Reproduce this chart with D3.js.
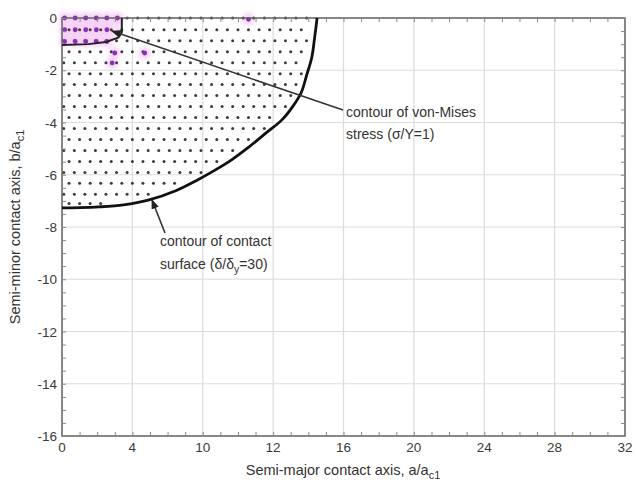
<!DOCTYPE html>
<html><head><meta charset="utf-8">
<script src="https://cdn.jsdelivr.net/npm/d3@7"></script>
<style>body{margin:0;background:#fff}svg{display:block}text{font-family:"Liberation Sans",Arial,sans-serif}</style>
</head><body>
<svg id="c" width="636" height="488"></svg>
<script>
// ---- data ----
const xTicks = [0, 4, 8, 12, 16, 20, 24, 28, 32];
const xTickLabels = ["0", "4", "10", "12", "16", "20", "24", "28", "32"];
const yTicks = [0, -2, -4, -6, -8, -10, -12, -14, -16];
const yTickLabels = ["0", "-2", "-4", "-6", "-8", "-10", "-12", "-14", "-16"];
// contour of contact surface (delta/delta_y = 30)
const contactA = [14.5, 14.35, 14.2, 13.9, 13.6, 13.1, 12.5, 11.6, 10.6, 9.6, 8.5, 7.7, 6.5, 4.9, 3.5, 2.1, 1.0, 0];
const contactB = [0, -0.8, -1.5, -2.2, -2.85, -3.4, -3.9, -4.4, -4.95, -5.45, -5.9, -6.2, -6.6, -6.97, -7.15, -7.23, -7.26, -7.27];
// contour of von-Mises stress (sigma/Y = 1)
const vmA = [3.4, 3.4, 3.2, 2.5, 1.5, 0];
const vmB = [0, -0.55, -0.75, -0.92, -1.0, -1.03];
// mesh of computed points: rows (b level, last a of row)
const rowB =    [0, -0.45, -0.87, -1.29, -1.71, -2.13, -2.55, -2.97, -3.39, -3.81, -4.23, -4.65, -5.07, -5.49, -5.91, -6.33, -6.75, -7.1];
const rowAEnd = [14.2, 14.1, 14.0, 13.8, 13.7, 13.6, 13.4, 13.1, 12.8, 12.3, 11.6, 10.8, 10.0, 9.2, 8.2, 6.8, 5.0, 2.6];
const dotStepA = 0.6;
// highlighted (yielded) points
const hotA = [0.15, 0.75, 1.35, 1.95, 2.55, 3.15, 0.15, 0.75, 1.35, 1.95, 2.55, 0.15, 0.75, 1.35, 1.95, 2.55, 3.0, 4.7, 2.85, 10.6];
const hotB = [0, 0, 0, 0, 0, 0, -0.45, -0.45, -0.45, -0.45, -0.45, -0.9, -0.9, -0.9, -0.9, -0.9, -1.34, -1.34, -1.72, -0.05];

// ---- chart ----
const svg = d3.select("#c");
const x = d3.scaleLinear().domain([0, 32]).range([62, 625]);
const y = d3.scaleLinear().domain([0, -16]).range([18, 436]);

// grid
svg.append("g").selectAll("line").data(xTicks).join("line")
  .attr("x1", d => x(d)).attr("x2", d => x(d)).attr("y1", y(0)).attr("y2", y(-16))
  .attr("stroke", "#dcdcdc").attr("stroke-width", 1.2);
svg.append("g").selectAll("line").data(yTicks).join("line")
  .attr("y1", d => y(d)).attr("y2", d => y(d)).attr("x1", x(0)).attr("x2", x(32))
  .attr("stroke", "#dcdcdc").attr("stroke-width", 1.2);

const defs = svg.append("defs");
defs.append("filter").attr("id", "blur").append("feGaussianBlur").attr("stdDeviation", 2.5);

// pink shading inside von-Mises contour
const vmPts = vmA.map((a, i) => [a, vmB[i]]);
svg.append("path")
  .attr("d", d3.line().x(d => x(d[0])).y(d => y(d[1]))([[0, 0], ...vmPts, [0, vmB[vmB.length - 1]]]))
  .attr("fill", "#f8e0f8").attr("stroke", "none");

// halos for hot points
svg.append("g").attr("filter", "url(#blur)").selectAll("circle").data(hotA.map((a, i) => [a, hotB[i]])).join("circle")
  .attr("cx", d => x(d[0])).attr("cy", d => y(d[1])).attr("r", 6).attr("fill", "#f5d0f5");

// mesh dots
const dots = [];
rowB.forEach((b, i) => {
  const off = (i % 2) ? dotStepA / 2 : 0;
  for (let a = 0.1 + off; a <= rowAEnd[i] + 1e-6; a += dotStepA) dots.push([a, b]);
});
svg.append("g").selectAll("circle").data(dots).join("circle")
  .attr("cx", d => x(d[0])).attr("cy", d => y(d[1])).attr("r", 1.5).attr("fill", "#3c3c3c");

// hot points
svg.append("g").selectAll("circle").data(hotA.map((a, i) => [a, hotB[i]])).join("circle")
  .attr("cx", d => x(d[0])).attr("cy", d => y(d[1])).attr("r", 2.4).attr("fill", "#8a30b0");

// axes frame
svg.append("rect").attr("x", x(0)).attr("y", y(0)).attr("width", x(32) - x(0)).attr("height", y(-16) - y(0))
  .attr("fill", "none").attr("stroke", "#666").attr("stroke-width", 1.5);
const tk = (g) => g.call(s => s.select(".domain").remove()).selectAll("line").attr("stroke", "#888");
svg.append("g").attr("transform", `translate(0,${y(-16)})`).call(d3.axisTop(x).ticks(32).tickSize(4).tickFormat("")).call(tk);
svg.append("g").attr("transform", `translate(0,${y(0)})`).call(d3.axisBottom(x).ticks(32).tickSize(4).tickFormat("")).call(tk);
svg.append("g").attr("transform", `translate(${x(0)},0)`).call(d3.axisRight(y).ticks(32).tickSize(4).tickFormat("")).call(tk);
svg.append("g").attr("transform", `translate(${x(32)},0)`).call(d3.axisLeft(y).ticks(32).tickSize(4).tickFormat("")).call(tk);

// tick labels
svg.append("g").selectAll("text").data(xTicks).join("text")
  .attr("x", d => x(d)).attr("y", 452).attr("text-anchor", "middle").attr("font-size", 13.5).attr("fill", "#3a3a3a")
  .text((d, i) => xTickLabels[i]);
svg.append("g").selectAll("text").data(yTicks).join("text")
  .attr("x", 57).attr("y", d => y(d) + 5).attr("text-anchor", "end").attr("font-size", 13.5).attr("fill", "#3a3a3a")
  .text((d, i) => yTickLabels[i]);

// contours
const line = d3.line().x(d => x(d[0])).y(d => y(d[1])).curve(d3.curveCatmullRom);
svg.append("path").attr("d", line(contactA.map((a, i) => [a, contactB[i]])))
  .attr("fill", "none").attr("stroke", "#111").attr("stroke-width", 2.8).attr("stroke-linejoin", "round");
svg.append("path").attr("d", d3.line().x(d => x(d[0])).y(d => y(d[1]))(vmPts))
  .attr("fill", "none").attr("stroke", "#222").attr("stroke-width", 2).attr("stroke-linejoin", "round");

// annotations
defs.append("marker").attr("id", "arr").attr("viewBox", "0 0 10 10").attr("refX", 9).attr("refY", 5)
  .attr("markerWidth", 6).attr("markerHeight", 6).attr("orient", "auto")
  .append("path").attr("d", "M0,1 L10,5 L0,9 Z").attr("fill", "#222");
svg.append("line").attr("x1", 343).attr("y1", 110).attr("x2", 112).attr("y2", 31)
  .attr("stroke", "#333").attr("stroke-width", 1.6).attr("marker-end", "url(#arr)");
svg.append("line").attr("x1", 165).attr("y1", 233).attr("x2", 152).attr("y2", 200)
  .attr("stroke", "#333").attr("stroke-width", 1.6).attr("marker-end", "url(#arr)");

const ann = svg.append("g").attr("font-size", 14).attr("fill", "#333");
ann.append("text").attr("x", 346).attr("y", 117).text("contour of von-Mises");
ann.append("text").attr("x", 346).attr("y", 139).text("stress (σ/Y=1)");
ann.append("text").attr("x", 160).attr("y", 246).text("contour of contact");
const t2 = ann.append("text").attr("x", 160).attr("y", 269);
t2.append("tspan").text("surface (δ/δ");
t2.append("tspan").attr("font-size", 10.5).attr("dy", 4).text("y");
t2.append("tspan").attr("dy", -4).text("=30)");

// axis titles
const xt = svg.append("text").attr("x", 343).attr("y", 475).attr("text-anchor", "middle").attr("font-size", 14.5).attr("fill", "#333");
xt.append("tspan").text("Semi-major contact axis, a/a");
xt.append("tspan").attr("font-size", 11).attr("dy", 4).text("c1");
const yt = svg.append("text").attr("transform", "translate(20,227) rotate(-90)").attr("text-anchor", "middle").attr("font-size", 14.5).attr("fill", "#333");
yt.append("tspan").text("Semi-minor contact axis, b/a");
yt.append("tspan").attr("font-size", 11).attr("dy", 4).text("c1");
</script>
</body></html>
